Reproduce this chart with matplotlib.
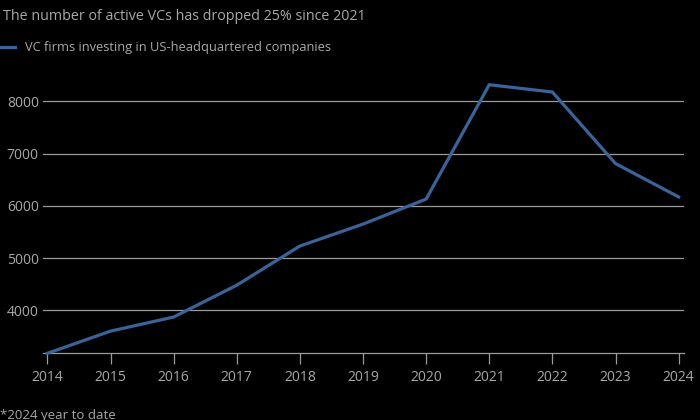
import matplotlib.pyplot as plt

# Active VC firms investing in US-headquartered companies
years = [2014, 2015, 2016, 2017, 2018, 2019, 2020, 2021, 2022, 2023, 2024]
vc_firms = [3175, 3600, 3870, 4480, 5230, 5650, 6130, 8320, 8180, 6810, 6170]
y_ticks = [4000, 5000, 6000, 7000, 8000]

title = "The number of active VCs has dropped 25% since 2021"
legend_label = "VC firms investing in US-headquartered companies"
footnote = "*2024 year to date"

bg = "#000000"
text_col = "#a8a8a8"
grid_col = "#9a9a9a"
line_col = "#3a6399"

plt.rcParams['font.family'] = ['Open Sans', 'DejaVu Sans']

fig = plt.figure(figsize=(7, 4.2), dpi=100, facecolor=bg)
# axes placed so gridlines run from x=43 to 684 px, baseline at y=353
ax = fig.add_axes([43 / 700, (420 - 353.3) / 420, 641 / 700, 275 / 420])
ax.set_facecolor(bg)

ax.plot(years, vc_firms, color=line_col, lw=2.3, solid_joinstyle='miter',
        clip_on=False, zorder=3)

ax.set_xlim(2013.93, 2024.085)
ax.set_ylim(3175, 3175 + 275 / 52.2 * 1000)
ax.set_xticks(years)
ax.set_yticks(y_ticks)
ax.grid(axis='y', color=grid_col, lw=0.9)
ax.set_axisbelow(True)

for side in ['top', 'right', 'left']:
    ax.spines[side].set_visible(False)
ax.spines['bottom'].set_color(grid_col)
ax.spines['bottom'].set_linewidth(0.9)

ax.tick_params(axis='x', colors=text_col, labelsize=10, length=8, width=0.9,
               color=grid_col, pad=4)
ax.tick_params(axis='y', colors=text_col, labelsize=10, length=0, pad=3)

fig.text(3 / 700, 1 - 17 / 420, title, color=text_col, fontsize=10.3,
         va='center', ha='left')
fig.lines.append(plt.Line2D([0, 15 / 700], [1 - 47 / 420] * 2, color=line_col,
                            lw=2.3, transform=fig.transFigure))
fig.text(25 / 700, 1 - 47 / 420, legend_label, color=text_col, fontsize=9.3,
         va='center', ha='left')
fig.text(0, 1 - 415 / 420, footnote, color=text_col, fontsize=9.5,
         va='center', ha='left')

fig.savefig("out.png", dpi=100, facecolor=bg)
